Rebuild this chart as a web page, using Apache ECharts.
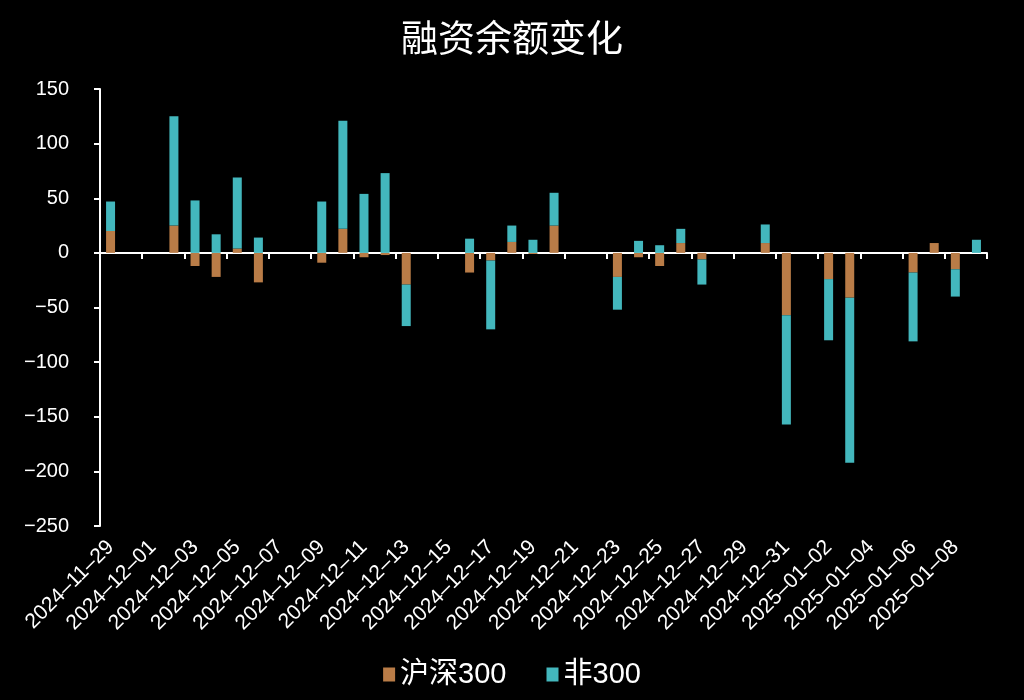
<!DOCTYPE html>
<html>
<head>
<meta charset="utf-8">
<script src="https://cdn.jsdelivr.net/npm/echarts@6/dist/echarts.min.js"></script>
<style>
html,body{margin:0;padding:0;background:#000;}
#chart{width:1024px;height:700px;}
</style>
</head>
<body>
<div id="chart"></div>
<script>
const titleText = '融资余额变化';
const seriesNames = ['沪深300', '非300'];
const dates = [
  '2024-11-29','2024-11-30','2024-12-01','2024-12-02','2024-12-03','2024-12-04','2024-12-05',
  '2024-12-06','2024-12-07','2024-12-08','2024-12-09','2024-12-10','2024-12-11','2024-12-12',
  '2024-12-13','2024-12-14','2024-12-15','2024-12-16','2024-12-17','2024-12-18','2024-12-19',
  '2024-12-20','2024-12-21','2024-12-22','2024-12-23','2024-12-24','2024-12-25','2024-12-26',
  '2024-12-27','2024-12-28','2024-12-29','2024-12-30','2024-12-31','2025-01-01','2025-01-02',
  '2025-01-03','2025-01-04','2025-01-05','2025-01-06','2025-01-07','2025-01-08','2025-01-09'
];
const hs300 = [20,null,null,25,-12,-22,4,-27,null,null,-9,22,-4,-2,-29,null,null,-18,-7,10,-1,25,null,null,-22,-4,-12,9,-6,null,null,9,-57,null,-24,-41,null,null,-18,9,-15,0];
const non300 = [27,null,null,100,48,17,65,14,null,null,47,99,54,73,-38,null,null,13,-63,15,12,30,null,null,-30,11,7,13,-23,null,null,17,-100,null,-56,-151,null,null,-63,0,-25,12];
const yMin = -250, yMax = 150, yStep = 50;

const chart = echarts.init(document.getElementById('chart'));
const font = '"Liberation Sans", "Noto Sans CJK SC", sans-serif';
chart.setOption({
  backgroundColor: '#000',
  animation: false,
  textStyle: { fontFamily: font },
  title: {
    text: titleText, left: 'center', top: 14,
    textStyle: { color: '#fff', fontSize: 37, fontWeight: 'normal', fontFamily: '"Noto Sans CJK SC", sans-serif' }
  },
  legend: {
    data: seriesNames, left: 'center', top: 655, icon: 'rect',
    itemWidth: 12, itemHeight: 14, itemGap: 40,
    textStyle: { color: '#fff', fontSize: 29, fontFamily: font }
  },
  grid: { left: 100, right: 37, top: 89, bottom: 174, containLabel: false },
  xAxis: [
    {
      type: 'category', data: dates, position: 'bottom',
      axisLine: { show: false, onZero: false },
      axisTick: { show: false },
      axisLabel: {
        interval: 1, rotate: 45, margin: 18, color: '#fff', fontSize: 21, fontFamily: font,
        formatter: v => v.replace(/-/g, '\u2013')
      }
    },
    {
      type: 'category', data: dates, position: 'bottom',
      axisLine: { show: true, onZero: true, lineStyle: { color: '#fff', width: 2 } },
      axisTick: { show: true, interval: 1, length: 6, lineStyle: { color: '#fff', width: 2 } },
      axisLabel: { show: false }
    }
  ],
  yAxis: {
    type: 'value', min: yMin, max: yMax, interval: yStep,
    axisLine: { show: true, lineStyle: { color: '#fff', width: 2 } },
    axisTick: { show: true, length: 6, lineStyle: { color: '#fff', width: 2 } },
    splitLine: { show: false },
    axisLabel: {
      color: '#fff', fontSize: 20, margin: 31, fontFamily: font,
      formatter: v => String(v).replace('-', '\u2212')
    }
  },
  series: [
    {
      name: seriesNames[0], type: 'bar', stack: 'total', xAxisIndex: 0,
      data: hs300, barWidth: 9,
      itemStyle: { color: '#B97C47' }
    },
    {
      name: seriesNames[1], type: 'bar', stack: 'total', xAxisIndex: 0,
      data: non300, barWidth: 9,
      itemStyle: { color: '#43B7BD' }
    }
  ]
});
</script>
</body>
</html>
